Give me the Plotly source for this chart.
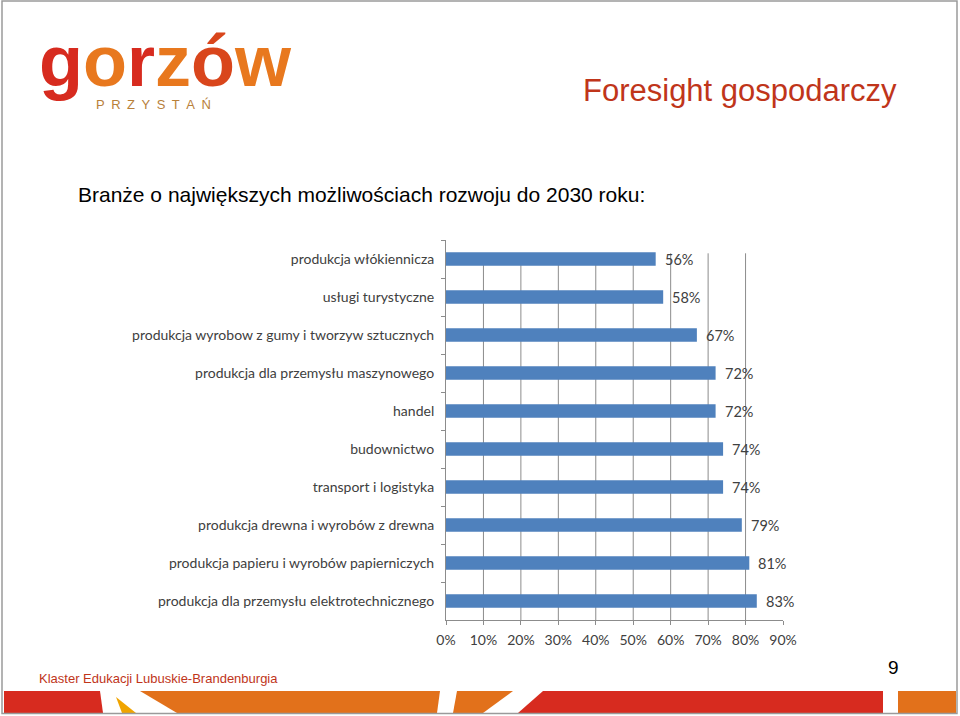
import plotly.graph_objects as go

W, H = 960, 716

categories = [
    "produkcja włókiennicza",
    "usługi turystyczne",
    "produkcja wyrobow z gumy i tworzyw sztucznych",
    "produkcja dla przemysłu maszynowego",
    "handel",
    "budownictwo",
    "transport i logistyka",
    "produkcja drewna i wyrobów z drewna",
    "produkcja papieru i wyrobów papierniczych",
    "produkcja dla przemysłu elektrotechnicznego",
]
values = [56, 58, 67, 72, 72, 74, 74, 79, 81, 83]
x_ticks = [0, 10, 20, 30, 40, 50, 60, 70, 80, 90]
x_tick_labels = [f"{t}%" for t in x_ticks]

BAR = "#4F81BD"
GRID = "#8C8C8C"
TXT = "#404040"
RED = "#D72B1F"
ORANGE = "#E2711B"
TITLE_RED = "#C0351A"
LOGO_COLORS = ["#D72B1F", "#E8781E", "#D72B1F", "#E8781E", "#D9461C", "#E8781E"]


def px(x):
    return x / W


def py(y):
    return 1 - y / H


fig = go.Figure()
fig.add_trace(go.Bar(
    x=values, y=categories, orientation="h",
    marker=dict(color=BAR, line=dict(width=0)),
    hoverinfo="skip",
))

annotations = []
for c, v in zip(categories, values):
    annotations.append(dict(
        x=v, y=c, xref="x", yref="y", text=f"{v}%", showarrow=False,
        xanchor="left", yanchor="middle", xshift=7,
        font=dict(family="Lato", size=14.5, color=TXT),
    ))

logo_text = "<b>" + "".join(
    f"<span style='color:{col}'>{ch}</span>" for ch, col in zip("gorzów", LOGO_COLORS)
) + "</b>"

annotations += [
    dict(x=px(899), y=py(90), xref="paper", yref="paper", text="Foresight gospodarczy",
         showarrow=False, xanchor="right", yanchor="middle",
         font=dict(family="Liberation Sans", size=31, color=TITLE_RED)),
    dict(x=px(76), y=py(195), xref="paper", yref="paper",
         text="Branże o największych możliwościach rozwoju do 2030 roku:",
         showarrow=False, xanchor="left", yanchor="middle",
         font=dict(family="Liberation Sans", size=21, color="#000000")),
    dict(x=px(37), y=py(678), xref="paper", yref="paper",
         text="Klaster Edukacji Lubuskie-Brandenburgia",
         showarrow=False, xanchor="left", yanchor="middle",
         font=dict(family="Liberation Sans", size=13, color=TITLE_RED)),
    dict(x=px(893), y=py(667), xref="paper", yref="paper", text="9",
         showarrow=False, xanchor="center", yanchor="middle",
         font=dict(family="Liberation Sans", size=19, color="#000000")),
    dict(x=px(37), y=py(61), xref="paper", yref="paper", text=logo_text,
         showarrow=False, xanchor="left", yanchor="middle",
         font=dict(family="Liberation Sans", size=72, color=RED)),
    dict(x=px(94), y=py(105), xref="paper", yref="paper",
         text="\u2002".join("PRZYSTAŃ"),
         showarrow=False, xanchor="left", yanchor="middle",
         font=dict(family="Liberation Sans", size=13, color="#B8803A")),
]

shapes = []
for t in x_ticks[1:-1]:
    shapes.append(dict(type="line", xref="x", yref="y domain", x0=t, x1=t, y0=0, y1=0.965,
                       line=dict(color=GRID, width=1), layer="below"))

shapes.append(dict(type="rect", xref="paper", yref="paper",
                   x0=px(2), x1=px(957), y0=py(713.5), y1=py(1),
                   line=dict(color="#9A9A9A", width=1.5), layer="above"))


def poly(pts, color):
    d = "M " + " L ".join(f"{px(x)},{py(y)}" for x, y in pts) + " Z"
    return dict(type="path", xref="paper", yref="paper", path=d,
                fillcolor=color, line=dict(width=0), layer="below")


shapes += [
    poly([(4, 691), (100, 691), (103, 713), (4, 713)], RED),
    poly([(116, 697), (136, 713), (122, 713)], "#F0A400"),
    poly([(140, 691), (440, 691), (437, 713), (177, 713)], ORANGE),
    poly([(457, 691), (513, 691), (483, 713), (453, 713)], ORANGE),
    poly([(543, 691), (883, 691), (883, 713), (518, 713)], RED),
    poly([(898, 691), (956, 691), (956, 713), (898, 713)], ORANGE),
]

fig.update_layout(
    width=W, height=H, autosize=False,
    margin=dict(l=0, r=0, t=0, b=0, pad=0, autoexpand=False),
    paper_bgcolor="white", plot_bgcolor="white",
    showlegend=False,
    bargap=0.65,
    annotations=annotations,
    shapes=shapes,
    xaxis=dict(
        domain=[px(446), px(783)],
        range=[0, 90],
        automargin=False,
        tickvals=x_ticks, ticktext=x_tick_labels,
        showgrid=False, zeroline=False,
        showline=True, linecolor=GRID, linewidth=1,
        ticks="outside", ticklen=4, tickcolor=GRID,
        ticklabelstandoff=3,
        tickfont=dict(family="Lato", size=14, color=TXT),
    ),
    yaxis=dict(
        domain=[py(620), py(240)],
        autorange="reversed",
        automargin=False,
        categoryorder="array", categoryarray=categories,
        showgrid=False, zeroline=False,
        showline=True, linecolor=GRID, linewidth=1,
        ticks="outside", ticklen=4, tickcolor=GRID, tickson="boundaries",
        ticklabelstandoff=8,
        tickfont=dict(family="Lato", size=14, color=TXT),
    ),
)

fig.write_html(
    "out.html",
    config={"responsive": False, "displayModeBar": False},
    default_width="960px", default_height="716px",
    post_script="document.body.style.margin='0';document.body.style.overflow='hidden';",
)
